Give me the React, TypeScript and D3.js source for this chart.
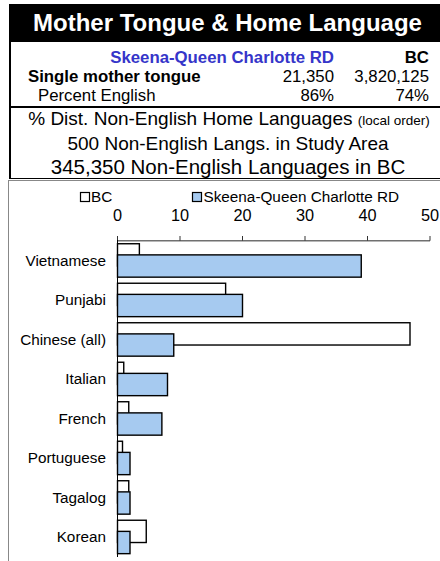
import React from "react";
import * as d3 from "d3";

const categories = ["Vietnamese", "Punjabi", "Chinese (all)", "Italian", "French", "Portuguese", "Tagalog", "Korean"];
const bcValues = [3.5, 17.3, 46.8, 1.0, 1.8, 0.8, 1.8, 4.6];
const regionValues = [39.0, 20.0, 9.0, 8.0, 7.1, 2.0, 2.0, 2.0];
const xTicks = [0, 10, 20, 30, 40, 50];
const seriesNames = ["BC", "Skeena-Queen Charlotte RD"];
const tableRows = [
  { label: "Single mother tongue", region: "21,350", bc: "3,820,125", bold: true },
  { label: "Percent English", region: "86%", bc: "74%", bold: false },
];

const FONT = "'Liberation Sans', Arial, sans-serif";
const BLUE = "#a6caf0";

export default function App() {
  const x = d3.scaleLinear().domain([0, 50]).range([117.5, 430]);
  const y = d3.scaleBand<string>().domain(categories).range([240.7, 556.7]).paddingInner(0.154).paddingOuter(0.077);
  const bw = y.bandwidth();
  const bh = bw / 1.5;

  return (
    <svg width={440} height={561} style={{ position: "absolute", left: 0, top: 0 }} fontFamily={FONT}>
      <rect x={0} y={0} width={440} height={561} fill="#fff" />
      {/* title bar */}
      <rect x={9} y={4} width={431} height={38} fill="#000" />
      <text x={227.5} y={31} textAnchor="middle" fill="#fff" fontWeight="bold" fontSize={24}>
        Mother Tongue &amp; Home Language
      </text>
      {/* upper box */}
      <line x1={10} x2={10} y1={42} y2={179} stroke="#000" strokeWidth={2} />
      <line x1={9} x2={440} y1={107} y2={107} stroke="#000" strokeWidth={2} />
      <line x1={9} x2={440} y1={178.5} y2={178.5} stroke="#000" strokeWidth={1} />
      <text x={334} y={63} textAnchor="end" fontWeight="bold" fontSize={16.8} fill="#3535c9">Skeena-Queen Charlotte RD</text>
      <text x={429} y={63} textAnchor="end" fontWeight="bold" fontSize={16.8} fill="#000">BC</text>
      {tableRows.map((r, i) => (
        <g key={r.label} fontSize={16.8} fill="#000">
          <text x={r.bold ? 28 : 38} y={82 + i * 19} fontWeight={r.bold ? "bold" : "normal"}>{r.label}</text>
          <text x={334} y={82 + i * 19} textAnchor="end">{r.region}</text>
          <text x={429} y={82 + i * 19} textAnchor="end">{r.bc}</text>
        </g>
      ))}
      <text x={229} y={125} textAnchor="middle" fontSize={19}>
        % Dist. Non-English Home Languages <tspan fontSize={13.5}>(local order)</tspan>
      </text>
      <text x={228} y={150} textAnchor="middle" fontSize={19}>500 Non-English Langs. in Study Area</text>
      <text x={228} y={174} textAnchor="middle" fontSize={20.5}>345,350 Non-English Languages in BC</text>

      {/* chart box */}
      <rect x={8.5} y={180.5} width={440} height={400} fill="#fff" stroke="#888" strokeWidth={1} />

      {/* legend */}
      <rect x={80.5} y={192.5} width={9} height={9} fill="#fff" stroke="#000" strokeWidth={1.2} />
      <text x={91} y={202} fontSize={15.3}>{seriesNames[0]}</text>
      <rect x={192.5} y={192.5} width={9} height={9} fill={BLUE} stroke="#000" strokeWidth={1.2} />
      <text x={203.5} y={202} fontSize={15.3}>{seriesNames[1]}</text>

      {/* x axis */}
      <line x1={x(0)} x2={x(50)} y1={240.7} y2={240.7} stroke="#707070" strokeWidth={1.5} />
      {xTicks.map((t) => (
        <g key={t}>
          <line x1={x(t)} x2={x(t)} y1={240.7} y2={236} stroke="#333" strokeWidth={1} />
          <text x={x(t)} y={221} textAnchor="middle" fontSize={16.3}>{t}</text>
        </g>
      ))}

      {/* bars */}
      {categories.map((c, i) => (
        <rect key={"bc" + c} x={x(0)} y={y(c)!} width={x(bcValues[i]) - x(0)} height={bh}
          fill="#fff" stroke="#000" strokeWidth={1.4} />
      ))}
      {categories.map((c, i) => (
        <rect key={"rg" + c} x={x(0)} y={y(c)! + bw - bh} width={x(regionValues[i]) - x(0)} height={bh}
          fill={BLUE} stroke="#000" strokeWidth={1.4} />
      ))}

      {/* y axis */}
      <line x1={117.5} x2={117.5} y1={240} y2={557} stroke="#000" strokeWidth={1} />
      {categories.map((c) => (
        <text key={"lb" + c} x={106} y={y(c)! + bw / 2} dy="0.36em" textAnchor="end" fontSize={15.3}>{c}</text>
      ))}
    </svg>
  );
}
